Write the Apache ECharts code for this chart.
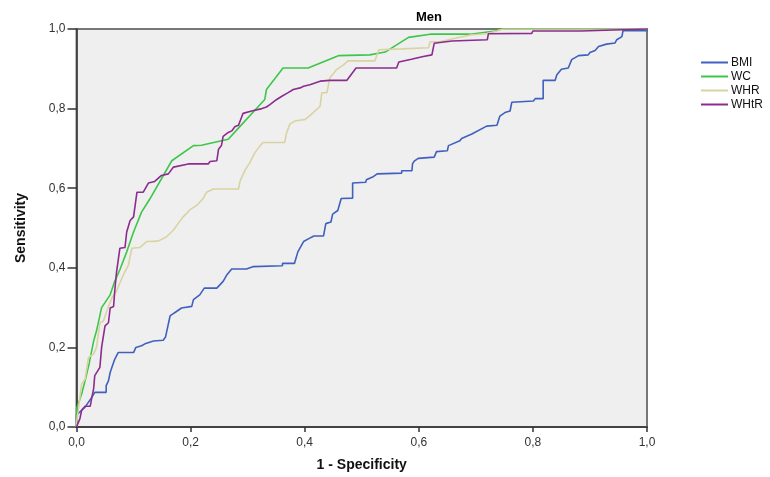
<!DOCTYPE html>
<html>
<head>
<meta charset="utf-8">
<script src="https://cdn.jsdelivr.net/npm/echarts@6/dist/echarts.min.js"></script>
<style>html,body{margin:0;padding:0;background:#fff}#c{width:770px;height:477px}</style>
</head>
<body>
<div id="c"></div>
<script>
const seriesNames = ['BMI', 'WC', 'WHR', 'WHtR'];
const tickValues = [0, 0.2, 0.4, 0.6, 0.8, 1.0];

const BMI = [[0,0],[0,0.03],[0.009,0.042],[0.015,0.05],[0.027,0.075],[0.032,0.087],[0.052,0.087],[0.052,0.104],[0.056,0.116],[0.059,0.137],[0.063,0.154],[0.067,0.17],[0.073,0.187],[0.1,0.187],[0.104,0.2],[0.114,0.204],[0.12,0.209],[0.135,0.216],[0.152,0.218],[0.156,0.226],[0.164,0.279],[0.169,0.284],[0.174,0.289],[0.184,0.299],[0.202,0.303],[0.205,0.32],[0.216,0.332],[0.224,0.349],[0.246,0.349],[0.257,0.366],[0.263,0.381],[0.272,0.397],[0.298,0.397],[0.31,0.403],[0.361,0.405],[0.361,0.411],[0.382,0.411],[0.388,0.44],[0.398,0.466],[0.408,0.474],[0.416,0.48],[0.433,0.48],[0.437,0.511],[0.446,0.515],[0.449,0.535],[0.458,0.544],[0.464,0.574],[0.484,0.575],[0.484,0.613],[0.507,0.615],[0.508,0.621],[0.519,0.628],[0.527,0.636],[0.57,0.638],[0.57,0.644],[0.588,0.644],[0.589,0.661],[0.592,0.668],[0.599,0.675],[0.627,0.678],[0.631,0.692],[0.65,0.694],[0.652,0.707],[0.672,0.719],[0.675,0.725],[0.693,0.736],[0.719,0.756],[0.737,0.758],[0.742,0.781],[0.751,0.79],[0.76,0.794],[0.763,0.816],[0.801,0.819],[0.804,0.825],[0.818,0.825],[0.818,0.871],[0.839,0.871],[0.842,0.885],[0.85,0.899],[0.862,0.902],[0.868,0.923],[0.88,0.933],[0.897,0.935],[0.9,0.941],[0.909,0.946],[0.915,0.956],[0.929,0.962],[0.944,0.965],[0.947,0.973],[0.956,0.981],[0.958,0.996],[1,0.996],[1,1]];

const WC = [[0,0],[0,0.045],[0.009,0.083],[0.015,0.116],[0.022,0.158],[0.03,0.216],[0.035,0.241],[0.044,0.3],[0.059,0.332],[0.067,0.366],[0.076,0.395],[0.088,0.44],[0.1,0.49],[0.114,0.54],[0.129,0.574],[0.167,0.669],[0.205,0.707],[0.219,0.708],[0.266,0.723],[0.287,0.756],[0.33,0.823],[0.333,0.848],[0.362,0.902],[0.406,0.902],[0.459,0.933],[0.514,0.935],[0.541,0.942],[0.582,0.979],[0.62,0.987],[0.69,0.987],[0.734,0.995],[0.745,1],[1,1]];

const WHR = [[0,0],[0,0.008],[0.003,0.042],[0.009,0.108],[0.015,0.12],[0.021,0.175],[0.03,0.183],[0.035,0.2],[0.041,0.262],[0.047,0.266],[0.053,0.291],[0.062,0.324],[0.07,0.341],[0.082,0.382],[0.091,0.407],[0.097,0.449],[0.111,0.451],[0.123,0.466],[0.143,0.467],[0.158,0.478],[0.17,0.495],[0.178,0.511],[0.187,0.528],[0.199,0.546],[0.211,0.557],[0.222,0.574],[0.228,0.59],[0.24,0.598],[0.284,0.598],[0.287,0.619],[0.295,0.644],[0.304,0.665],[0.313,0.69],[0.322,0.707],[0.327,0.715],[0.365,0.715],[0.368,0.738],[0.374,0.761],[0.383,0.769],[0.401,0.773],[0.412,0.786],[0.427,0.806],[0.43,0.84],[0.439,0.84],[0.444,0.877],[0.456,0.898],[0.468,0.91],[0.476,0.92],[0.523,0.92],[0.53,0.948],[0.57,0.95],[0.617,0.953],[0.62,0.968],[0.637,0.968],[0.658,0.975],[0.69,0.985],[0.719,0.988],[0.737,0.995],[0.748,1],[1,1]];

const WHtR = [[0,0],[0.006,0.021],[0.009,0.042],[0.015,0.052],[0.024,0.052],[0.027,0.075],[0.03,0.096],[0.032,0.129],[0.041,0.15],[0.044,0.2],[0.05,0.254],[0.056,0.262],[0.059,0.299],[0.065,0.303],[0.067,0.341],[0.07,0.387],[0.076,0.449],[0.085,0.451],[0.088,0.49],[0.094,0.519],[0.1,0.528],[0.106,0.59],[0.117,0.59],[0.126,0.613],[0.137,0.617],[0.149,0.632],[0.161,0.636],[0.17,0.653],[0.196,0.661],[0.231,0.661],[0.234,0.667],[0.246,0.669],[0.249,0.698],[0.254,0.707],[0.257,0.73],[0.266,0.74],[0.272,0.744],[0.278,0.755],[0.284,0.758],[0.29,0.781],[0.292,0.788],[0.307,0.794],[0.325,0.8],[0.333,0.804],[0.339,0.81],[0.351,0.823],[0.36,0.831],[0.371,0.84],[0.38,0.848],[0.392,0.852],[0.398,0.856],[0.409,0.86],[0.427,0.869],[0.444,0.871],[0.474,0.871],[0.49,0.902],[0.561,0.902],[0.565,0.917],[0.587,0.924],[0.608,0.931],[0.623,0.935],[0.627,0.964],[0.658,0.97],[0.72,0.973],[0.722,0.988],[0.798,0.989],[0.8,0.995],[0.884,0.995],[0.886,1],[1,1]];

const colors = ['#4060bf', '#3ec64a', '#d9d3a2', '#8b2c8e'];
const seriesData = [BMI, WC, WHR, WHtR];
const fmt = v => v.toFixed(1).replace('.', ',');
const FONT = '"Liberation Sans", Arial, sans-serif';

const chart = echarts.init(document.getElementById('c'), null, {renderer: 'canvas'});
chart.setOption({
  animation: false,
  backgroundColor: '#ffffff',
  title: {
    text: 'Men', left: 411, top: 6,
    textStyle: {fontFamily: FONT, fontSize: 13, fontWeight: 'bold', color: '#000'}
  },
  legend: {
    orient: 'vertical', left: 696, top: 51,
    itemWidth: 27, itemHeight: 2, itemGap: 1,
    icon: 'rect',
    data: seriesNames,
    textStyle: {fontFamily: FONT, fontSize: 12, color: '#111', lineHeight: 13, padding: [0,0,0,-2]}
  },
  grid: {
    left: 76.5, right: 123, top: 29, bottom: 46,
    show: true, backgroundColor: '#efefef', borderColor: '#777', borderWidth: 2
  },
  xAxis: {
    type: 'value', min: 0, max: 1, interval: 0.2,
    name: '1 - Specificity', nameLocation: 'middle', nameGap: 31,
    nameTextStyle: {fontFamily: FONT, fontSize: 14, fontWeight: 'bold', color: '#111'},
    axisLine: {show: true, lineStyle: {color: '#333', width: 1.5}},
    axisTick: {show: true, length: 5, lineStyle: {color: '#333', width: 1.5}},
    axisLabel: {formatter: fmt, fontFamily: FONT, fontSize: 12, color: '#333', margin: 10},
    splitLine: {show: false}
  },
  yAxis: {
    type: 'value', min: 0, max: 1, interval: 0.2,
    name: 'Sensitivity', nameLocation: 'middle', nameGap: 48, nameRotate: 90,
    nameTextStyle: {fontFamily: FONT, fontSize: 14, fontWeight: 'bold', color: '#111'},
    axisLine: {show: true, lineStyle: {color: '#333', width: 1.5}},
    axisTick: {show: true, length: 9, lineStyle: {color: '#333', width: 1.5}},
    axisLabel: {formatter: fmt, fontFamily: FONT, fontSize: 12, color: '#333', margin: 11},
    splitLine: {show: false}
  },
  series: seriesNames.map((n, i) => ({
    name: n, type: 'line', data: seriesData[i],
    symbol: 'none', smooth: false,
    lineStyle: {color: colors[i], width: 1.6},
    itemStyle: {color: colors[i]},
    z: 2 + i
  }))
});
</script>
</body>
</html>
